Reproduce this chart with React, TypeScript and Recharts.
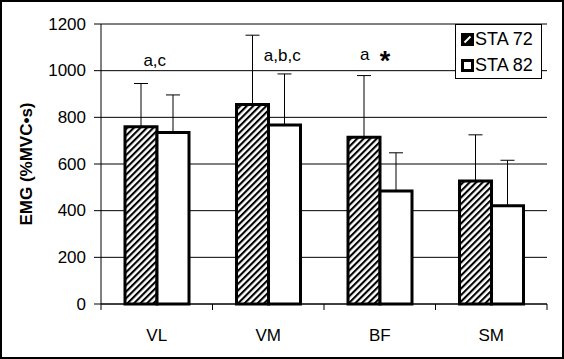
import React from 'react';
import {
  BarChart,
  Bar,
  XAxis,
  YAxis,
  CartesianGrid,
  ErrorBar,
  ReferenceLine,
  ReferenceDot,
} from 'recharts';

// muscle groups on the x axis
const categories = ['VL', 'VM', 'BF', 'SM'];

// mean EMG (%MVC•s) for each condition
const sta72 = [760, 855, 715, 527];
const sta82 = [735, 767, 484, 421];

// upward standard deviation for each bar
const err72 = [185, 297, 264, 198];
const err82 = [161, 219, 164, 195];

// significance notes above each group, and the value they sit at
const notes = ['a,c', 'a,b,c', 'a *', ''];
const noteLevel = [1019, 1040, 1045, 0];

const yTicks = [0, 200, 400, 600, 800, 1000, 1200];

const seriesNames = ['STA 72', 'STA 82'];

const FONT = '"Liberation Sans", Arial, sans-serif';

const rows = categories.map((name, i) => ({
  name,
  sta72: sta72[i],
  sta82: sta82[i],
  e72: [0, err72[i]],
  e82: [0, err82[i]],
}));

// x ticks sit on the category boundaries, like Excel draws them
const XTick = (props: any) => {
  const { x, y, payload, index, visibleTicksCount } = props;
  const half = payload && payload.offset ? payload.offset : 111.5 / 2;
  const last = index === visibleTicksCount - 1;
  return (
    <g>
      <line x1={x - half} x2={x - half} y1={y} y2={y + 6} stroke="#000" />
      {last && <line x1={x + half} x2={x + half} y1={y} y2={y + 6} stroke="#000" />}
      <text x={x} y={y + 37} textAnchor="middle" fontSize={17} fontFamily={FONT} fill="#000">
        {payload.value}
      </text>
    </g>
  );
};

const YTick = (props: any) => {
  const { x, y, payload } = props;
  return (
    <text x={x} y={y} textAnchor="end" dominantBaseline="central" fontSize={17} fontFamily={FONT} fill="#000">
      {payload.value}
    </text>
  );
};

const YLabel = (props: any) => {
  const vb = props.viewBox || { x: 0, y: 24, width: 101, height: 280 };
  return (
    <text
      transform={`translate(${vb.x + 26},${vb.y + vb.height / 2}) rotate(-90)`}
      textAnchor="middle"
      dominantBaseline="central"
      fontSize={17}
      fontWeight="bold"
      fontFamily={FONT}
      fill="#000"
    >
      EMG (%MVC•s)
    </text>
  );
};

// small nudges so the notes land where the original author put them
const noteShift = [-2, 14, -15, 0];

const NoteLabel = (props: any) => {
  const { viewBox, text, i } = props;
  if (!viewBox || !text) return null;
  const cx = viewBox.x + viewBox.width / 2 + noteShift[i];
  const cy = viewBox.y + viewBox.height / 2;
  const star = text.endsWith(' *');
  const main = star ? text.slice(0, -2) : text;
  return (
    <g fontFamily={FONT} fill="#000">
      <text x={cx} y={cy} textAnchor="middle" fontSize={17}>
        {main}
      </text>
      {star && (
        <text x={cx + 15} y={cy + 10} textAnchor="start" fontSize={27} fontWeight="bold">
          *
        </text>
      )}
    </g>
  );
};

const LegendBox = () => (
  <div
    style={{
      position: 'absolute',
      left: 455,
      top: 24,
      width: 87,
      height: 55,
      boxSizing: 'border-box',
      border: '1px solid #000',
      background: '#fff',
      fontFamily: FONT,
      fontSize: 18,
      color: '#000',
    }}
  >
    <svg width={13} height={13} style={{ position: 'absolute', left: 5, top: 8 }}>
      <rect x={0} y={0} width={13} height={13} fill="#000" />
      <line x1={3.5} y1={9.5} x2={9.5} y2={3.5} stroke="#fff" strokeWidth={2} />
    </svg>
    <span style={{ position: 'absolute', left: 19, top: 3, lineHeight: '22px' }}>{seriesNames[0]}</span>
    <svg width={13} height={13} style={{ position: 'absolute', left: 5, top: 34 }}>
      <rect x={1.5} y={1.5} width={10} height={10} fill="#fff" stroke="#000" strokeWidth={3} />
    </svg>
    <span style={{ position: 'absolute', left: 19, top: 29, lineHeight: '22px' }}>{seriesNames[1]}</span>
  </div>
);

const App: React.FC = () => {
  return (
    <div style={{ position: 'relative', width: 564, height: 359, background: '#fff' }}>
      <style>{'body{margin:0}'}</style>
      <BarChart
        width={564}
        height={359}
        data={rows}
        margin={{ top: 24, right: 17, left: 0, bottom: 0 }}
        barGap={0}
        barSize={32}
      >
        <defs>
          <pattern id="hatch" width={4.6} height={4.6} patternUnits="userSpaceOnUse" patternTransform="rotate(45)">
            <rect x={0} y={0} width={4.6} height={4.6} fill="#fff" />
            <rect x={0} y={0} width={2.1} height={4.6} fill="#000" />
          </pattern>
        </defs>
        <CartesianGrid vertical={false} stroke="#000" />
        <ReferenceLine y={1200} stroke="#808080" />
        <XAxis
          dataKey="name"
          height={55}
          tickLine={false}
          tickSize={0}
          tickMargin={0}
          axisLine={{ stroke: '#000' }}
          tick={<XTick />}
          interval={0}
        />
        <YAxis
          width={101}
          domain={[0, 1200]}
          ticks={yTicks}
          tickSize={7}
          tickMargin={8}
          tickLine={{ stroke: '#000' }}
          axisLine={{ stroke: '#000' }}
          tick={<YTick />}
          label={<YLabel />}
        />
        <YAxis
          yAxisId="r"
          orientation="right"
          width={0}
          domain={[0, 1200]}
          tick={false}
          tickLine={false}
          axisLine={{ stroke: '#808080' }}
        />
        <Bar dataKey="sta72" name={seriesNames[0]} fill="url(#hatch)" stroke="#000" strokeWidth={3} isAnimationActive={false}>
          <ErrorBar dataKey="e72" direction="y" width={7} stroke="#000" strokeWidth={1} />
        </Bar>
        <Bar dataKey="sta82" name={seriesNames[1]} fill="#fff" stroke="#000" strokeWidth={3} isAnimationActive={false}>
          <ErrorBar dataKey="e82" direction="y" width={7} stroke="#000" strokeWidth={1} />
        </Bar>
        {categories.map((c, i) =>
          notes[i] ? (
            <ReferenceDot
              key={c}
              x={c}
              y={noteLevel[i]}
              r={1}
              fill="none"
              stroke="none"
              label={<NoteLabel text={notes[i]} i={i} />}
            />
          ) : null
        )}
      </BarChart>
      <LegendBox />
      <div
        style={{
          position: 'absolute',
          inset: 0,
          border: '2px solid #000',
          pointerEvents: 'none',
        }}
      />
    </div>
  );
};

export default App;
